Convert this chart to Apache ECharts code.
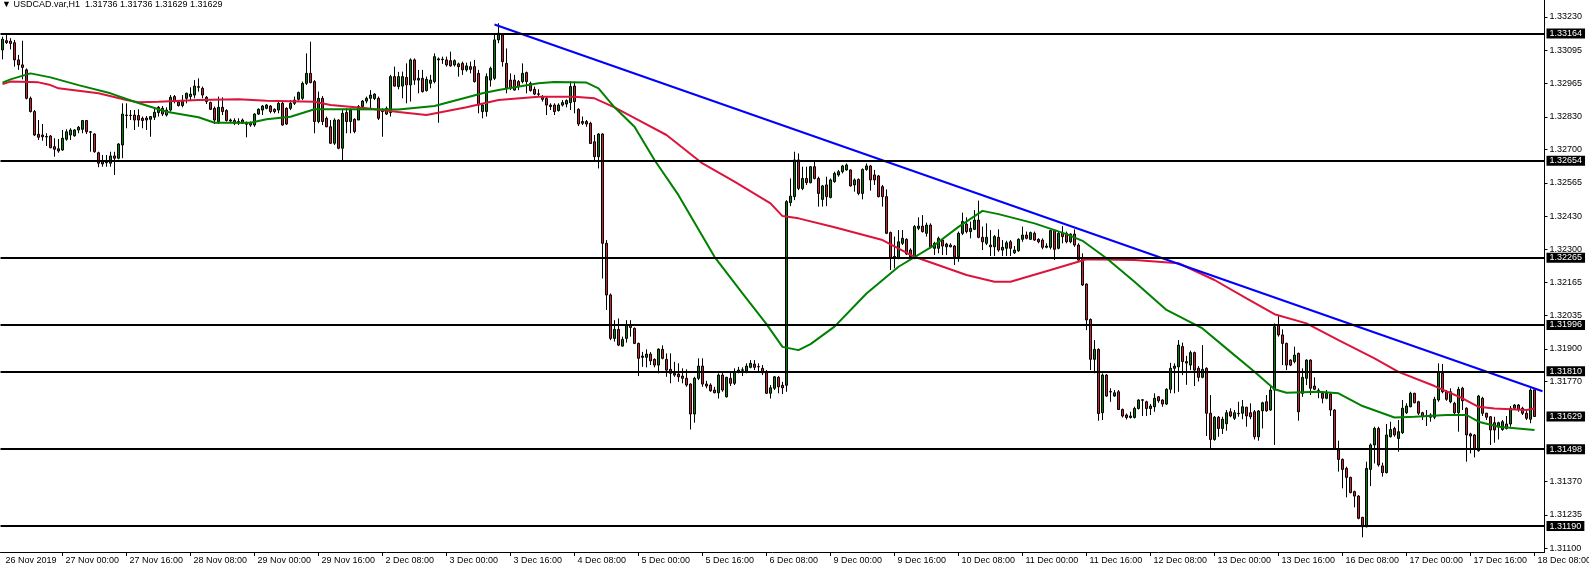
<!DOCTYPE html>
<html>
<head>
<meta charset="utf-8">
<script src="https://cdn.jsdelivr.net/npm/echarts@6/dist/echarts.min.js"></script>
<style>html,body{margin:0;padding:0;background:#fff;}#chart{width:1589px;height:569px;}</style>
</head>
<body>
<div id="chart"></div>
<script>
// ---------- DATA ----------
const titleText = '\u25BC USDCAD.var,H1  1.31736 1.31736 1.31629 1.31629';

const opens = [
1.33098,1.33135,1.33133,1.33127,1.33058,1.33038,1.33018,1.32904,1.32851,1.32760,
1.32757,1.32749,1.32753,1.32710,1.32702,1.32697,1.32740,1.32757,1.32754,1.32777,
1.32780,1.32815,1.32770,1.32761,1.32686,1.32650,1.32646,1.32644,1.32673,1.32664,
1.32717,1.32835,1.32836,1.32837,1.32835,1.32824,1.32825,1.32820,1.32828,1.32847,
1.32864,1.32837,1.32857,1.32911,1.32889,1.32875,1.32904,1.32911,1.32917,1.32951,
1.32944,1.32908,1.32887,1.32864,1.32811,1.32868,1.32855,1.32817,1.32815,1.32811,
1.32817,1.32803,1.32804,1.32797,1.32841,1.32857,1.32864,1.32873,1.32860,1.32857,
1.32884,1.32864,1.32864,1.32884,1.32900,1.32904,1.32964,1.33004,1.32971,1.32811,
1.32904,1.32824,1.32790,1.32724,1.32817,1.32704,1.32847,1.32811,1.32820,1.32817,
1.32871,1.32893,1.32904,1.32903,1.32904,1.32857,1.32864,1.32847,1.32991,1.32951,
1.32953,1.32988,1.32958,1.33058,1.32977,1.32984,1.32935,1.32964,1.32971,1.33058,
1.33059,1.33058,1.33055,1.33038,1.33042,1.33044,1.33018,1.33031,1.33031,1.33004,
1.32851,1.32851,1.32977,1.32984,1.33138,1.33158,1.33044,1.32977,1.32977,1.32971,
1.32971,1.33007,1.32964,1.32940,1.32922,1.32908,1.32903,1.32877,1.32877,1.32855,
1.32877,1.32881,1.32887,1.32953,1.32860,1.32811,1.32811,1.32804,1.32730,1.32670,
1.32761,1.32323,1.32116,1.31942,1.31978,1.31911,1.31942,1.31995,1.31982,1.31922,
1.31866,1.31866,1.31879,1.31858,1.31835,1.31898,1.31858,1.31818,1.31802,1.31799,
1.31791,1.31782,1.31759,1.31639,1.31782,1.31831,1.31759,1.31755,1.31735,1.31724,
1.31795,1.31708,1.31782,1.31762,1.31808,1.31814,1.31812,1.31826,1.31839,1.31829,
1.31822,1.31806,1.31722,1.31742,1.31786,1.31754,1.31754,1.32486,1.32510,1.32657,
1.32543,1.32583,1.32566,1.32630,1.32583,1.32499,1.32557,1.32507,1.32570,1.32597,
1.32610,1.32617,1.32617,1.32557,1.32579,1.32523,1.32619,1.32633,1.32597,1.32593,
1.32550,1.32510,1.32366,1.32270,1.32263,1.32323,1.32339,1.32296,1.32263,1.32383,
1.32392,1.32363,1.32396,1.32303,1.32303,1.32336,1.32309,1.32316,1.32312,1.32269,
1.32363,1.32400,1.32370,1.32379,1.32416,1.32347,1.32323,1.32316,1.32309,1.32347,
1.32296,1.32303,1.32329,1.32285,1.32293,1.32339,1.32356,1.32339,1.32363,1.32339,
1.32336,1.32307,1.32307,1.32374,1.32303,1.32363,1.32363,1.32329,1.32360,1.32316,
1.32263,1.32160,1.32018,1.31858,1.31898,1.31644,1.31795,1.31729,1.31711,1.31728,
1.31657,1.31635,1.31625,1.31625,1.31661,1.31696,1.31688,1.31661,1.31668,1.31708,
1.31695,1.31679,1.31738,1.31822,1.31828,1.31909,1.31849,1.31835,1.31885,1.31822,
1.31786,1.31822,1.31642,1.31537,1.31626,1.31581,1.31600,1.31648,1.31622,1.31642,
1.31642,1.31666,1.31644,1.31648,1.31548,1.31652,1.31688,1.31655,1.31735,1.31996,
1.31956,1.31922,1.31855,1.31849,1.31882,1.31722,1.31782,1.31855,1.31751,1.31733,
1.31722,1.31702,1.31719,1.31655,1.31495,1.31457,1.31421,1.31385,1.31328,1.31310,
1.31225,1.31187,1.31417,1.31515,1.31581,1.31431,1.31404,1.31548,1.31581,1.31541,
1.31564,1.31644,1.31668,1.31722,1.31688,1.31644,1.31631,1.31635,1.31626,1.31695,
1.31802,1.31728,1.31688,1.31682,1.31644,1.31742,1.31662,1.31559,1.31555,1.31492,
1.31702,1.31642,1.31628,1.31604,1.31588,1.31577,1.31599,1.31599,1.31662,1.31675,
1.31662,1.31642,1.31618,1.31736];

const closes = [
1.33141,1.33127,1.33124,1.33058,1.33038,1.33028,1.32904,1.32851,1.32757,1.32748,
1.32750,1.32751,1.32706,1.32700,1.32693,1.32744,1.32770,1.32777,1.32777,1.32788,
1.32815,1.32770,1.32768,1.32690,1.32644,1.32641,1.32650,1.32673,1.32664,1.32721,
1.32841,1.32837,1.32835,1.32817,1.32817,1.32815,1.32817,1.32831,1.32848,1.32868,
1.32841,1.32857,1.32908,1.32891,1.32875,1.32891,1.32924,1.32921,1.32953,1.32948,
1.32917,1.32891,1.32860,1.32817,1.32868,1.32851,1.32815,1.32813,1.32804,1.32804,
1.32804,1.32800,1.32797,1.32841,1.32860,1.32873,1.32877,1.32851,1.32851,1.32884,
1.32797,1.32801,1.32884,1.32897,1.32927,1.32964,1.33004,1.32967,1.32811,1.32904,
1.32811,1.32790,1.32724,1.32817,1.32704,1.32844,1.32811,1.32857,1.32771,1.32871,
1.32893,1.32904,1.32917,1.32921,1.32824,1.32851,1.32841,1.32991,1.32953,1.32991,
1.32991,1.32958,1.33058,1.32977,1.32984,1.32931,1.32980,1.32977,1.33071,1.33062,
1.33061,1.33038,1.33034,1.33055,1.33031,1.33018,1.33034,1.33020,1.32971,1.32877,
1.32877,1.32991,1.33024,1.33138,1.33165,1.33051,1.32944,1.32944,1.32937,1.32951,
1.33004,1.32971,1.32935,1.32921,1.32920,1.32900,1.32877,1.32871,1.32851,1.32877,
1.32887,1.32895,1.32951,1.32891,1.32801,1.32804,1.32801,1.32723,1.32670,1.32761,
1.32323,1.32116,1.31942,1.31978,1.31915,1.31938,1.31995,1.31986,1.31922,1.31862,
1.31871,1.31879,1.31852,1.31835,1.31899,1.31862,1.31815,1.31802,1.31795,1.31788,
1.31782,1.31755,1.31639,1.31782,1.31831,1.31759,1.31751,1.31732,1.31724,1.31795,
1.31735,1.31786,1.31762,1.31808,1.31815,1.31816,1.31831,1.31842,1.31826,1.31828,
1.31804,1.31722,1.31744,1.31788,1.31748,1.31744,1.32490,1.32512,1.32657,1.32543,
1.32583,1.32566,1.32630,1.32583,1.32523,1.32553,1.32510,1.32577,1.32603,1.32610,
1.32633,1.32637,1.32553,1.32577,1.32523,1.32619,1.32633,1.32577,1.32577,1.32510,
1.32510,1.32363,1.32263,1.32268,1.32329,1.32343,1.32280,1.32269,1.32390,1.32392,
1.32370,1.32396,1.32309,1.32323,1.32343,1.32312,1.32320,1.32309,1.32269,1.32363,
1.32410,1.32370,1.32383,1.32416,1.32347,1.32329,1.32347,1.32309,1.32350,1.32296,
1.32307,1.32325,1.32303,1.32296,1.32339,1.32356,1.32343,1.32366,1.32336,1.32329,
1.32307,1.32312,1.32374,1.32299,1.32363,1.32350,1.32329,1.32360,1.32316,1.32256,
1.32156,1.32016,1.31858,1.31898,1.31641,1.31795,1.31711,1.31727,1.31724,1.31657,
1.31631,1.31625,1.31631,1.31661,1.31695,1.31694,1.31661,1.31671,1.31702,1.31692,
1.31679,1.31738,1.31822,1.31831,1.31915,1.31849,1.31843,1.31885,1.31815,1.31786,
1.31818,1.31642,1.31537,1.31626,1.31581,1.31618,1.31644,1.31631,1.31644,1.31640,
1.31668,1.31631,1.31628,1.31548,1.31651,1.31684,1.31652,1.31735,1.31989,1.31956,
1.31922,1.31835,1.31835,1.31875,1.31648,1.31786,1.31855,1.31742,1.31738,1.31734,
1.31702,1.31722,1.31655,1.31497,1.31457,1.31417,1.31385,1.31324,1.31310,1.31221,
1.31187,1.31421,1.31515,1.31581,1.31435,1.31404,1.31555,1.31577,1.31555,1.31568,
1.31662,1.31671,1.31722,1.31684,1.31642,1.31628,1.31629,1.31626,1.31698,1.31809,
1.31728,1.31698,1.31728,1.31644,1.31738,1.31692,1.31555,1.31551,1.31497,1.31711,
1.31642,1.31626,1.31575,1.31575,1.31604,1.31608,1.31581,1.31662,1.31675,1.31658,
1.31642,1.31622,1.31735,1.31629];

const lows = [
1.33060,1.33122,1.33100,1.33031,1.33018,1.32980,1.32900,1.32847,1.32753,1.32737,
1.32734,1.32713,1.32704,1.32670,1.32686,1.32694,1.32734,1.32737,1.32750,1.32764,
1.32764,1.32761,1.32690,1.32686,1.32628,1.32630,1.32630,1.32630,1.32597,1.32660,
1.32664,1.32784,1.32817,1.32777,1.32790,1.32784,1.32777,1.32750,1.32817,1.32831,
1.32833,1.32831,1.32851,1.32884,1.32871,1.32868,1.32884,1.32897,1.32904,1.32931,
1.32904,1.32881,1.32857,1.32801,1.32801,1.32837,1.32811,1.32806,1.32797,1.32797,
1.32801,1.32748,1.32790,1.32790,1.32837,1.32837,1.32860,1.32844,1.32844,1.32844,
1.32795,1.32797,1.32857,1.32877,1.32895,1.32897,1.32957,1.32964,1.32764,1.32804,
1.32797,1.32788,1.32721,1.32717,1.32700,1.32650,1.32764,1.32764,1.32764,1.32817,
1.32864,1.32884,1.32857,1.32897,1.32817,1.32750,1.32837,1.32831,1.32951,1.32940,
1.32904,1.32884,1.32891,1.32958,1.32924,1.32927,1.32931,1.32944,1.32964,1.32806,
1.33042,1.33031,1.33031,1.33031,1.32991,1.32998,1.33011,1.33004,1.32967,1.32844,
1.32824,1.32831,1.32951,1.32977,1.33125,1.33031,1.32924,1.32937,1.32935,1.32937,
1.32964,1.32924,1.32931,1.32917,1.32911,1.32891,1.32837,1.32857,1.32837,1.32851,
1.32871,1.32868,1.32857,1.32844,1.32793,1.32797,1.32790,1.32721,1.32650,1.32623,
1.32182,1.32056,1.31935,1.31929,1.31911,1.31909,1.31925,1.31949,1.31919,1.31791,
1.31828,1.31826,1.31835,1.31826,1.31802,1.31858,1.31788,1.31762,1.31788,1.31768,
1.31762,1.31748,1.31577,1.31604,1.31775,1.31748,1.31742,1.31728,1.31722,1.31701,
1.31728,1.31705,1.31751,1.31755,1.31802,1.31791,1.31802,1.31822,1.31815,1.31808,
1.31795,1.31719,1.31701,1.31735,1.31722,1.31719,1.31728,1.32472,1.32496,1.32536,
1.32536,1.32557,1.32563,1.32579,1.32470,1.32470,1.32472,1.32503,1.32566,1.32590,
1.32603,1.32614,1.32550,1.32530,1.32516,1.32499,1.32614,1.32534,1.32557,1.32507,
1.32470,1.32360,1.32216,1.32223,1.32259,1.32316,1.32276,1.32267,1.32259,1.32376,
1.32366,1.32350,1.32303,1.32276,1.32283,1.32276,1.32276,1.32307,1.32236,1.32249,
1.32356,1.32363,1.32343,1.32376,1.32343,1.32296,1.32316,1.32272,1.32272,1.32289,
1.32272,1.32272,1.32272,1.32280,1.32289,1.32329,1.32339,1.32336,1.32333,1.32323,
1.32299,1.32303,1.32299,1.32256,1.32299,1.32323,1.32323,1.32323,1.32309,1.32253,
1.32152,1.31975,1.31815,1.31802,1.31612,1.31615,1.31708,1.31688,1.31708,1.31655,
1.31625,1.31617,1.31621,1.31621,1.31657,1.31631,1.31631,1.31635,1.31648,1.31684,
1.31668,1.31675,1.31722,1.31722,1.31728,1.31795,1.31756,1.31815,1.31751,1.31769,
1.31782,1.31551,1.31497,1.31532,1.31548,1.31559,1.31572,1.31626,1.31615,1.31628,
1.31618,1.31588,1.31618,1.31537,1.31532,1.31581,1.31648,1.31652,1.31515,1.31949,
1.31835,1.31815,1.31831,1.31842,1.31612,1.31708,1.31755,1.31715,1.31735,1.31702,
1.31682,1.31698,1.31631,1.31495,1.31408,1.31341,1.31305,1.31321,1.31265,1.31217,
1.31145,1.31185,1.31350,1.31441,1.31428,1.31388,1.31401,1.31545,1.31548,1.31488,
1.31559,1.31639,1.31666,1.31682,1.31635,1.31615,1.31591,1.31608,1.31618,1.31688,
1.31722,1.31692,1.31682,1.31639,1.31568,1.31655,1.31448,1.31481,1.31465,1.31488,
1.31631,1.31615,1.31515,1.31524,1.31537,1.31572,1.31577,1.31588,1.31655,1.31648,
1.31635,1.31615,1.31602,1.31629];

const highs = [
1.33151,1.33158,1.33145,1.33138,1.33078,1.33135,1.33024,1.32911,1.32857,1.32817,
1.32801,1.32764,1.32757,1.32744,1.32741,1.32777,1.32780,1.32784,1.32781,1.32793,
1.32817,1.32817,1.32773,1.32764,1.32690,1.32677,1.32677,1.32690,1.32690,1.32724,
1.32884,1.32884,1.32857,1.32857,1.32860,1.32831,1.32833,1.32833,1.32868,1.32873,
1.32873,1.32868,1.32917,1.32917,1.32897,1.32917,1.32927,1.32948,1.32977,1.32984,
1.32951,1.32913,1.32891,1.32871,1.32911,1.32908,1.32860,1.32823,1.32824,1.32824,
1.32823,1.32811,1.32811,1.32844,1.32864,1.32877,1.32881,1.32877,1.32864,1.32897,
1.32891,1.32868,1.32897,1.32911,1.32931,1.32971,1.33084,1.33131,1.32977,1.32931,
1.32913,1.32831,1.32817,1.32824,1.32820,1.32857,1.32864,1.32864,1.32824,1.32877,
1.32897,1.32911,1.32937,1.32924,1.32911,1.32864,1.32871,1.32998,1.33031,1.33010,
1.33011,1.33044,1.33064,1.33064,1.33018,1.33018,1.32991,1.32998,1.33084,1.33068,
1.33071,1.33071,1.33091,1.33060,1.33047,1.33051,1.33047,1.33051,1.33058,1.33018,
1.32884,1.33004,1.33031,1.33164,1.33205,1.33165,1.33104,1.33004,1.32998,1.32977,
1.33044,1.33011,1.32971,1.32951,1.32940,1.32917,1.32911,1.32884,1.32884,1.32884,
1.32897,1.32900,1.32971,1.32971,1.32864,1.32831,1.32817,1.32810,1.32757,1.32764,
1.32764,1.32336,1.32122,1.32015,1.32022,1.31949,1.32015,1.32015,1.31986,1.31925,
1.31888,1.31898,1.31887,1.31862,1.31902,1.31914,1.31882,1.31882,1.31848,1.31842,
1.31822,1.31818,1.31762,1.31788,1.31862,1.31862,1.31772,1.31762,1.31748,1.31802,
1.31808,1.31788,1.31808,1.31822,1.31828,1.31826,1.31842,1.31855,1.31855,1.31842,
1.31835,1.31815,1.31755,1.31791,1.31791,1.31768,1.32496,1.32583,1.32690,1.32683,
1.32630,1.32630,1.32633,1.32650,1.32590,1.32557,1.32590,1.32583,1.32610,1.32617,
1.32637,1.32643,1.32619,1.32583,1.32583,1.32623,1.32643,1.32637,1.32617,1.32597,
1.32557,1.32539,1.32370,1.32350,1.32376,1.32376,1.32343,1.32303,1.32396,1.32427,
1.32436,1.32406,1.32403,1.32329,1.32350,1.32343,1.32325,1.32323,1.32316,1.32370,
1.32446,1.32427,1.32410,1.32456,1.32494,1.32390,1.32403,1.32376,1.32356,1.32379,
1.32336,1.32333,1.32336,1.32312,1.32343,1.32390,1.32370,1.32370,1.32370,1.32343,
1.32343,1.32323,1.32376,1.32379,1.32370,1.32392,1.32370,1.32363,1.32379,1.32323,
1.32283,1.32162,1.32022,1.31935,1.31902,1.31802,1.31799,1.31742,1.31735,1.31735,
1.31661,1.31641,1.31648,1.31668,1.31698,1.31698,1.31692,1.31679,1.31722,1.31711,
1.31698,1.31742,1.31844,1.31842,1.31935,1.31925,1.31872,1.31893,1.31889,1.31831,
1.31915,1.31826,1.31715,1.31631,1.31631,1.31628,1.31655,1.31662,1.31655,1.31688,
1.31695,1.31668,1.31682,1.31655,1.31655,1.31688,1.31715,1.31748,1.32002,1.32036,
1.31978,1.31925,1.31858,1.31909,1.31885,1.31822,1.31858,1.31858,1.31786,1.31742,
1.31728,1.31735,1.31724,1.31658,1.31532,1.31461,1.31428,1.31388,1.31332,1.31314,
1.31227,1.31448,1.31521,1.31588,1.31588,1.31444,1.31599,1.31608,1.31588,1.31615,
1.31695,1.31682,1.31728,1.31724,1.31692,1.31648,1.31655,1.31642,1.31708,1.31842,
1.31839,1.31735,1.31742,1.31688,1.31748,1.31748,1.31666,1.31564,1.31559,1.31715,
1.31708,1.31644,1.31631,1.31628,1.31608,1.31615,1.31631,1.31671,1.31679,1.31679,
1.31668,1.31652,1.31742,1.31736];

// moving averages read at knots (bar index, price)
const maRedBars   = [0,2,9,12,14,24,31,34,39,49,59,66,78,82,91,99,106,116,124,134,143,148,153,159,166,175,183,192,195,199,208,220,228,241,248,252,262,271,283,294,303,311,318,326,334,343,349,358,365,369,373,381,383];
const maRedVals   = [1.32961,1.32971,1.32968,1.32957,1.32944,1.32924,1.32897,1.32888,1.32890,1.32897,1.32900,1.32894,1.32890,1.32877,1.32864,1.32849,1.32837,1.32868,1.32897,1.32910,1.32910,1.32904,1.32868,1.32817,1.32757,1.32643,1.32570,1.32483,1.32432,1.32423,1.32387,1.32336,1.32269,1.32196,1.32169,1.32169,1.32216,1.32259,1.32256,1.32243,1.32176,1.32102,1.32039,1.32002,1.31935,1.31862,1.31808,1.31751,1.31702,1.31668,1.31661,1.31655,1.31661];
const maGreenBars = [0,2,7,12,19,27,33,41,49,53,62,66,72,78,87,99,108,120,124,134,138,146,149,153,158,163,169,178,185,191,195,199,202,208,216,224,233,239,245,249,258,266,270,276,283,291,300,307,313,318,321,329,334,340,348,353,361,366,369,374,383];
const maGreenVals = [1.32967,1.32980,1.33004,1.32988,1.32957,1.32924,1.32890,1.32850,1.32828,1.32806,1.32806,1.32820,1.32830,1.32860,1.32860,1.32859,1.32873,1.32924,1.32937,1.32964,1.32969,1.32967,1.32944,1.32868,1.32790,1.32657,1.32516,1.32269,1.32122,1.31999,1.31908,1.31895,1.31919,1.31989,1.32122,1.32229,1.32316,1.32389,1.32453,1.32440,1.32403,1.32360,1.32333,1.32263,1.32169,1.32056,1.31982,1.31888,1.31808,1.31738,1.31724,1.31728,1.31722,1.31671,1.31625,1.31628,1.31635,1.31635,1.31608,1.31588,1.31575];

// blue trend line (two anchor points: bar index, price)
const trendBars = [123, 385];
const trendVals = [1.33200, 1.31730];

// horizontal levels and last price
const levels = [1.33164, 1.32654, 1.32265, 1.31996, 1.31810, 1.31498, 1.31190];
const lastPrice = 1.31629;

// axis ticks
const yTickValues = [1.33230, 1.33095, 1.32965, 1.32830, 1.32700, 1.32565, 1.32430, 1.32300, 1.32165, 1.32035, 1.31900, 1.31770, 1.31370, 1.31235, 1.31100];
const xTickBars   = [0, 15, 31, 47, 63, 79, 95, 111, 127, 143, 159, 175, 191, 207, 223, 239, 255, 271, 287, 303, 319, 335, 351, 367, 383];
const xTickLabels = ['26 Nov 2019','27 Nov 00:00','27 Nov 16:00','28 Nov 08:00','29 Nov 00:00','29 Nov 16:00','2 Dec 08:00','3 Dec 00:00','3 Dec 16:00','4 Dec 08:00','5 Dec 00:00','5 Dec 16:00','6 Dec 08:00','9 Dec 00:00','9 Dec 16:00','10 Dec 08:00','11 Dec 00:00','11 Dec 16:00','12 Dec 08:00','13 Dec 00:00','13 Dec 16:00','16 Dec 08:00','17 Dec 00:00','17 Dec 16:00','18 Dec 08:00'];
const totalSlots = 386;

// ---------- BUILD ----------
const categories = Array.from({length: totalSlots}, (_, i) => String(i));
const candleData = opens.map((o, i) => [o, closes[i], lows[i], highs[i]]);
const labelMap = {};
xTickBars.forEach((b, k) => { labelMap[b] = xTickLabels[k]; });
const FONT = 'Liberation Sans';

const chart = echarts.init(document.getElementById('chart'), null, {renderer: 'canvas'});
const boxLabel = {
  show: true, position: 'end', distance: 2,
  formatter: p => Number(p.value).toFixed(5),
  backgroundColor: '#000', color: '#fff', fontFamily: FONT, fontSize: 9,
  padding: [1, 3, 0, 3]
};
chart.setOption({
  animation: false,
  backgroundColor: '#fff',
  title: {
    text: titleText, left: 2, top: 0, padding: 0,
    textStyle: {fontFamily: FONT, fontSize: 9, fontWeight: 'normal', color: '#000'}
  },
  grid: {left: 0.5, right: 44.5, top: 0, bottom: 17, containLabel: false, outerBoundsMode: 'none'},
  xAxis: {
    type: 'category', data: categories, boundaryGap: true,
    axisLine: {show: true, lineStyle: {color: '#000', width: 1}},
    axisTick: {show: true, alignWithLabel: true, length: 4, interval: (i) => i !== 0 && labelMap[i] !== undefined, lineStyle: {color: '#000'}},
    axisLabel: {
      show: true, interval: (i) => labelMap[i] !== undefined,
      formatter: (v, i) => labelMap[i] || '',
      align: 'left', padding: [0, 0, 0, 3], margin: 4,
      color: '#000', fontFamily: FONT, fontSize: 9
    },
    splitLine: {show: false}
  },
  yAxis: {
    type: 'value', position: 'right', min: 1.31086, max: 1.33298, scale: true,
    axisLine: {show: true, lineStyle: {color: '#000', width: 1}},
    axisTick: {show: true, length: 3, customValues: yTickValues, lineStyle: {color: '#000'}},
    axisLabel: {show: true, customValues: yTickValues, formatter: v => Number(v).toFixed(5), margin: 5, color: '#000', fontFamily: FONT, fontSize: 9},
    splitLine: {show: false}
  },
  series: [
    {
      type: 'candlestick', name: 'USDCAD', data: candleData, barWidth: 2, z: 2,
      itemStyle: {color: '#008000', color0: '#cd1f30', borderColor: '#000', borderColor0: '#000', borderWidth: 1},
      markLine: {
        silent: true, symbol: ['none', 'none'], animation: false, precision: 5,
        lineStyle: {color: '#000', width: 2, type: 'solid'},
        label: boxLabel,
        data: levels.map(v => ({yAxis: v})).concat([{yAxis: lastPrice, lineStyle: {color: 'rgba(0,0,0,0)', width: 0}, label: boxLabel}])
      }
    },
    {
      type: 'line', name: 'MA slow', data: maRedBars.map((b, k) => [b, maRedVals[k]]),
      showSymbol: false, symbol: 'none', z: 3,
      lineStyle: {color: '#dc143c', width: 2}
    },
    {
      type: 'line', name: 'MA fast', data: maGreenBars.map((b, k) => [b, maGreenVals[k]]),
      showSymbol: false, symbol: 'none', z: 3,
      lineStyle: {color: '#008000', width: 2}
    },
    {
      type: 'line', name: 'Trend', data: trendBars.map((b, k) => [b, trendVals[k]]),
      showSymbol: false, symbol: 'none', z: 4,
      lineStyle: {color: '#0000ff', width: 2}
    }
  ]
});
</script>
</body>
</html>
